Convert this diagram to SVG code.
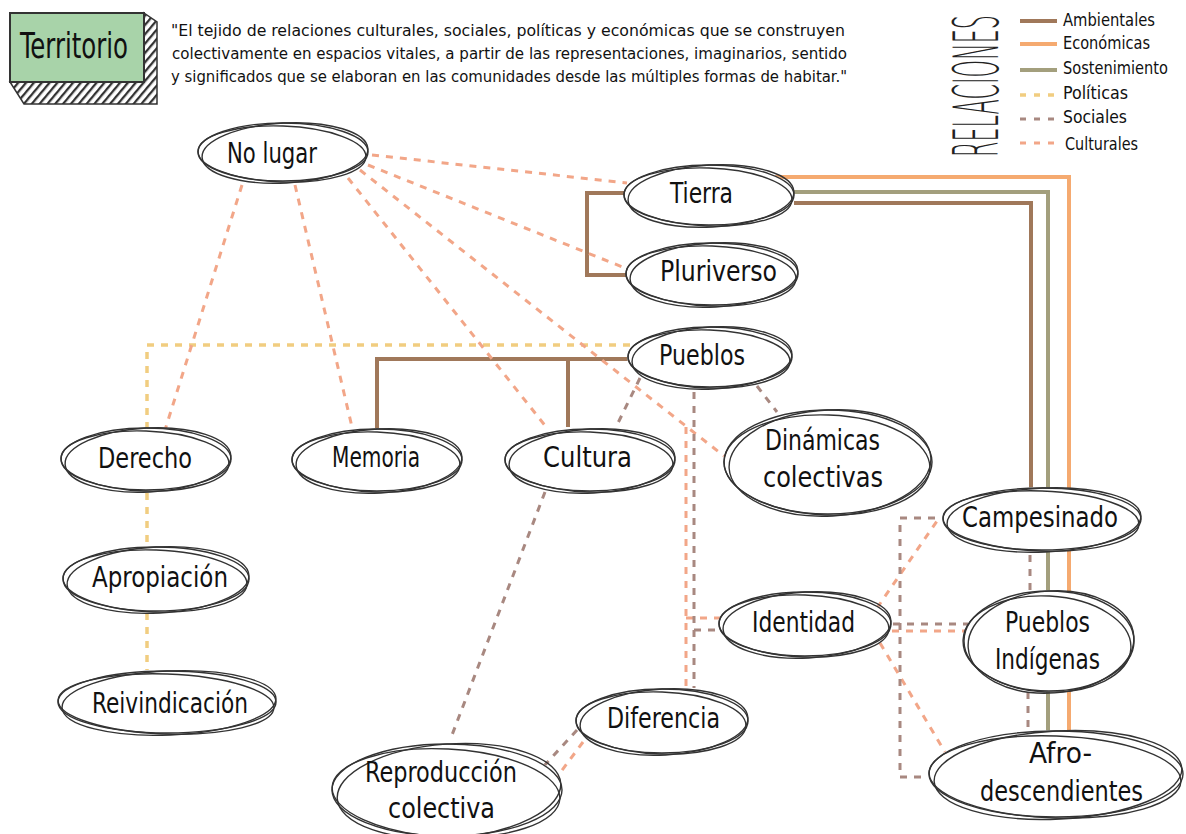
<svg xmlns="http://www.w3.org/2000/svg" width="1186" height="834" viewBox="0 0 1186 834">
<defs>
<pattern id="hatch" width="6" height="6" patternUnits="userSpaceOnUse" patternTransform="rotate(40)">
<rect width="6" height="6" fill="#fff"/><line x1="1" y1="0" x2="1" y2="6" stroke="#333" stroke-width="2.6"/>
</pattern>
<style>
.bg{fill:#fff;stroke:none}
.sk{fill:none;stroke:#333;stroke-width:1.4}
.t{font-family:"DejaVu Sans Condensed","DejaVu Sans",sans-serif;font-size:28px;fill:#111}
.q{font-family:"DejaVu Sans Condensed","DejaVu Sans",sans-serif;font-size:16px;fill:#111}
.lg{font-family:"DejaVu Sans Condensed","DejaVu Sans",sans-serif;font-size:17px;fill:#111}
.amb{stroke:#a0785a;stroke-width:4;fill:none}
.eco{stroke:#f5aa70;stroke-width:4;fill:none}
.sos{stroke:#a39f7d;stroke-width:4;fill:none}
.pol{stroke:#f1cd80;stroke-width:3.5;fill:none;stroke-dasharray:7 7}
.soc{stroke:#a88880;stroke-width:3;fill:none;stroke-dasharray:7 7}
.cul{stroke:#f2a688;stroke-width:3;fill:none;stroke-dasharray:7 7}
</style>
</defs>
<rect width="1186" height="834" fill="#fff"/>

<g id="title">
<polygon points="144,13 157,22 157,104 24,104 10,82 144,82" fill="url(#hatch)" stroke="#333" stroke-width="1.5"/>
<rect x="10" y="13" width="134" height="69" fill="#a8d3a9" stroke="#333" stroke-width="2"/>
<text x="20" y="58" style="font-family:'DejaVu Sans Condensed','DejaVu Sans',sans-serif;font-size:36px;fill:#111" textLength="108" lengthAdjust="spacingAndGlyphs">Territorio</text>
</g>

<g id="quote">
<text class="q" x="171" y="36" textLength="674" lengthAdjust="spacingAndGlyphs">"El tejido de relaciones culturales, sociales, políticas y económicas que se construyen</text>
<text class="q" x="172" y="59" textLength="675" lengthAdjust="spacingAndGlyphs">colectivamente en espacios vitales, a partir de las representaciones, imaginarios, sentido</text>
<text class="q" x="171" y="82" textLength="676" lengthAdjust="spacingAndGlyphs">y significados que se elaboran en las comunidades desde las múltiples formas de habitar."</text>
</g>

<g id="legend">
<text x="0" y="0" transform="translate(998,157) rotate(-90) scale(1,3.1)" style="font-family:'DejaVu Sans',sans-serif;font-size:20px;font-weight:200;fill:#222" textLength="142" lengthAdjust="spacingAndGlyphs">RELACIONES</text>
<line class="amb" x1="1020" y1="21" x2="1057" y2="21"/>
<line class="eco" x1="1020" y1="44" x2="1057" y2="44"/>
<line class="sos" x1="1020" y1="70" x2="1057" y2="70"/>
<line class="pol" x1="1020" y1="95" x2="1057" y2="95" style="stroke-dasharray:6 8"/>
<line class="soc" x1="1020" y1="119" x2="1057" y2="119" style="stroke-dasharray:6 8"/>
<line class="cul" x1="1020" y1="143" x2="1057" y2="143" style="stroke-dasharray:6 8"/>
<text class="lg" x="1063" y="26" textLength="92" lengthAdjust="spacingAndGlyphs">Ambientales</text>
<text class="lg" x="1063" y="49" textLength="87" lengthAdjust="spacingAndGlyphs">Económicas</text>
<text class="lg" x="1063" y="74" textLength="105" lengthAdjust="spacingAndGlyphs">Sostenimiento</text>
<text class="lg" x="1063" y="99" textLength="65" lengthAdjust="spacingAndGlyphs">Políticas</text>
<text class="lg" x="1063" y="123" textLength="64" lengthAdjust="spacingAndGlyphs">Sociales</text>
<text class="lg" x="1065" y="150" textLength="73" lengthAdjust="spacingAndGlyphs">Culturales</text>
</g>

<g id="connectors">
<path class="eco" d="M775,177 H1069 V732"/>
<path class="sos" d="M790,192 H1048 V732"/>
<path class="amb" d="M794,203 H1031 V488"/>
<path class="amb" d="M626,193 H587 V275 H628"/>
<path class="amb" d="M630,359 H377 V428 M568,359 V427"/>
<path class="pol" d="M630,345 H147 V428 M147,493 V546 M147,613 V670"/>
<path class="cul" d="M372,155 L627,183"/>
<path class="cul" d="M368,165 L625,268"/>
<path class="cul" d="M242,185 L165,430"/>
<path class="cul" d="M295,185 L352,427"/>
<path class="cul" d="M348,178 L547,428"/>
<path class="cul" d="M360,170 L724,456"/>
<path class="cul" d="M686,427 V690 M686,618 H720"/>
<path class="cul" d="M877,608 L937,521"/>
<path class="cul" d="M892,631 H965"/>
<path class="cul" d="M880,643 L945,752"/>
<path class="cul" d="M583,742 L557,777"/>
<path class="soc" d="M694,392 V688 M694,630 H720"/>
<path class="soc" d="M640,378 L617,425"/>
<path class="soc" d="M757,386 L777,412"/>
<path class="soc" d="M545,492 L452,735"/>
<path class="soc" d="M577,730 L543,767"/>
<path class="soc" d="M935,518 H900 V777 H928"/>
<path class="soc" d="M893,624 H968"/>
<path class="soc" d="M1030,555 V590 M1028,692 V731"/>
</g>

<g id="n-nolugar">
<ellipse class="bg" cx="283" cy="152" rx="86" ry="30"/>
<ellipse class="sk" cx="283" cy="152" rx="85" ry="29"/>
<ellipse class="sk" cx="285" cy="153" rx="83" ry="30" transform="rotate(-3 285 153)"/>
<ellipse class="sk" cx="282" cy="154" rx="84" ry="28" transform="rotate(2 282 154)"/>
<text class="t" x="227" y="163" textLength="90" lengthAdjust="spacingAndGlyphs">No lugar</text>
</g>
<g id="n-tierra">
<ellipse class="bg" cx="709" cy="195" rx="85" ry="31"/>
<ellipse class="sk" cx="709" cy="195" rx="85" ry="30"/>
<ellipse class="sk" cx="711" cy="196" rx="83" ry="31" transform="rotate(-3 711 196)"/>
<ellipse class="sk" cx="708" cy="197" rx="84" ry="29" transform="rotate(2 708 197)"/>
<text class="t" x="670" y="203" textLength="63" lengthAdjust="spacingAndGlyphs">Tierra</text>
</g>
<g id="n-pluriverso">
<ellipse class="bg" cx="712" cy="274" rx="86" ry="32"/>
<ellipse class="sk" cx="712" cy="274" rx="86" ry="31"/>
<ellipse class="sk" cx="714" cy="275" rx="84" ry="32" transform="rotate(-3 714 275)"/>
<ellipse class="sk" cx="711" cy="276" rx="85" ry="30" transform="rotate(2 711 276)"/>
<text class="t" x="660" y="281" textLength="117" lengthAdjust="spacingAndGlyphs">Pluriverso</text>
</g>
<g id="n-pueblos">
<ellipse class="bg" cx="710" cy="357" rx="83" ry="31"/>
<ellipse class="sk" cx="710" cy="357" rx="82" ry="30"/>
<ellipse class="sk" cx="712" cy="358" rx="80" ry="31" transform="rotate(-3 712 358)"/>
<ellipse class="sk" cx="709" cy="359" rx="81" ry="29" transform="rotate(2 709 359)"/>
<text class="t" x="659" y="365" textLength="86" lengthAdjust="spacingAndGlyphs">Pueblos</text>
</g>
<g id="n-derecho">
<ellipse class="bg" cx="146" cy="459" rx="85" ry="32"/>
<ellipse class="sk" cx="146" cy="459" rx="85" ry="31"/>
<ellipse class="sk" cx="148" cy="460" rx="83" ry="32" transform="rotate(-3 148 460)"/>
<ellipse class="sk" cx="145" cy="461" rx="84" ry="30" transform="rotate(2 145 461)"/>
<text class="t" x="98" y="468" textLength="94" lengthAdjust="spacingAndGlyphs">Derecho</text>
</g>
<g id="n-memoria">
<ellipse class="bg" cx="377" cy="460" rx="85" ry="32"/>
<ellipse class="sk" cx="377" cy="460" rx="85" ry="31"/>
<ellipse class="sk" cx="379" cy="461" rx="83" ry="32" transform="rotate(-3 379 461)"/>
<ellipse class="sk" cx="376" cy="462" rx="84" ry="30" transform="rotate(2 376 462)"/>
<text class="t" x="332" y="467" textLength="88" lengthAdjust="spacingAndGlyphs">Memoria</text>
</g>
<g id="n-cultura">
<ellipse class="bg" cx="590" cy="460" rx="85" ry="32"/>
<ellipse class="sk" cx="590" cy="460" rx="85" ry="31"/>
<ellipse class="sk" cx="592" cy="461" rx="83" ry="32" transform="rotate(-3 592 461)"/>
<ellipse class="sk" cx="589" cy="462" rx="84" ry="30" transform="rotate(2 589 462)"/>
<text class="t" x="543" y="467" textLength="89" lengthAdjust="spacingAndGlyphs">Cultura</text>
</g>
<g id="n-dinamicas">
<ellipse class="bg" cx="828" cy="462" rx="104" ry="53"/>
<ellipse class="sk" cx="828" cy="462" rx="104" ry="52"/>
<ellipse class="sk" cx="830" cy="463" rx="101" ry="53" transform="rotate(-3 830 463)"/>
<ellipse class="sk" cx="827" cy="465" rx="103" ry="50" transform="rotate(2 827 465)"/>
<text class="t" x="765" y="450" textLength="115" lengthAdjust="spacingAndGlyphs">Dinámicas</text>
<text class="t" x="763" y="487" textLength="120" lengthAdjust="spacingAndGlyphs">colectivas</text>
</g>
<g id="n-campesinado">
<ellipse class="bg" cx="1042" cy="519" rx="100" ry="32"/>
<ellipse class="sk" cx="1042" cy="519" rx="99" ry="31"/>
<ellipse class="sk" cx="1044" cy="520" rx="97" ry="32" transform="rotate(-2.5 1044 520)"/>
<ellipse class="sk" cx="1041" cy="521" rx="98" ry="30" transform="rotate(2 1041 521)"/>
<text class="t" x="962" y="527" textLength="156" lengthAdjust="spacingAndGlyphs">Campesinado</text>
</g>
<g id="n-identidad">
<ellipse class="bg" cx="805" cy="624" rx="87" ry="33"/>
<ellipse class="sk" cx="805" cy="624" rx="86" ry="32"/>
<ellipse class="sk" cx="807" cy="625" rx="84" ry="33" transform="rotate(-3 807 625)"/>
<ellipse class="sk" cx="804" cy="626" rx="85" ry="31" transform="rotate(2 804 626)"/>
<text class="t" x="752" y="632" textLength="103" lengthAdjust="spacingAndGlyphs">Identidad</text>
</g>
<g id="n-pueblosind">
<ellipse class="bg" cx="1049" cy="641" rx="86" ry="51"/>
<ellipse class="sk" cx="1049" cy="641" rx="85" ry="50"/>
<ellipse class="sk" cx="1051" cy="642" rx="83" ry="51" transform="rotate(-4 1051 642)"/>
<ellipse class="sk" cx="1047" cy="644" rx="84" ry="48" transform="rotate(3 1047 644)"/>
<text class="t" x="1005" y="632" textLength="85" lengthAdjust="spacingAndGlyphs">Pueblos</text>
<text class="t" x="995" y="669" textLength="105" lengthAdjust="spacingAndGlyphs">Indígenas</text>
</g>
<g id="n-afro">
<ellipse class="bg" cx="1056" cy="774" rx="128" ry="44"/>
<ellipse class="sk" cx="1056" cy="774" rx="127" ry="43"/>
<ellipse class="sk" cx="1058" cy="775" rx="124" ry="44" transform="rotate(-3 1058 775)"/>
<ellipse class="sk" cx="1055" cy="777" rx="126" ry="41" transform="rotate(2 1055 777)"/>
<text class="t" x="1029" y="763" textLength="63" lengthAdjust="spacingAndGlyphs">Afro-</text>
<text class="t" x="980" y="801" textLength="163" lengthAdjust="spacingAndGlyphs">descendientes</text>
</g>
<g id="n-apropiacion">
<ellipse class="bg" cx="156" cy="579" rx="94" ry="33"/>
<ellipse class="sk" cx="156" cy="579" rx="93" ry="32"/>
<ellipse class="sk" cx="158" cy="580" rx="91" ry="33" transform="rotate(-3 158 580)"/>
<ellipse class="sk" cx="155" cy="581" rx="92" ry="31" transform="rotate(2 155 581)"/>
<text class="t" x="92" y="587" textLength="136" lengthAdjust="spacingAndGlyphs">Apropiación</text>
</g>
<g id="n-reivindicacion">
<ellipse class="bg" cx="167" cy="702" rx="110" ry="32"/>
<ellipse class="sk" cx="167" cy="702" rx="109" ry="31"/>
<ellipse class="sk" cx="169" cy="703" rx="107" ry="32" transform="rotate(-2.5 169 703)"/>
<ellipse class="sk" cx="166" cy="704" rx="108" ry="30" transform="rotate(2 166 704)"/>
<text class="t" x="92" y="713" textLength="156" lengthAdjust="spacingAndGlyphs">Reivindicación</text>
</g>
<g id="n-diferencia">
<ellipse class="bg" cx="662" cy="721" rx="87" ry="33"/>
<ellipse class="sk" cx="662" cy="721" rx="86" ry="32"/>
<ellipse class="sk" cx="664" cy="722" rx="84" ry="33" transform="rotate(-3 664 722)"/>
<ellipse class="sk" cx="661" cy="723" rx="85" ry="31" transform="rotate(2 661 723)"/>
<text class="t" x="607" y="728" textLength="113" lengthAdjust="spacingAndGlyphs">Diferencia</text>
</g>
<g id="n-reproduccion">
<ellipse class="bg" cx="447" cy="790" rx="116" ry="47"/>
<ellipse class="sk" cx="447" cy="790" rx="115" ry="46"/>
<ellipse class="sk" cx="449" cy="791" rx="112" ry="47" transform="rotate(-4 449 791)"/>
<ellipse class="sk" cx="446" cy="793" rx="114" ry="44" transform="rotate(3 446 793)"/>
<text class="t" x="365" y="782" textLength="152" lengthAdjust="spacingAndGlyphs">Reproducción</text>
<text class="t" x="388" y="818" textLength="107" lengthAdjust="spacingAndGlyphs">colectiva</text>
</g>
</svg>
